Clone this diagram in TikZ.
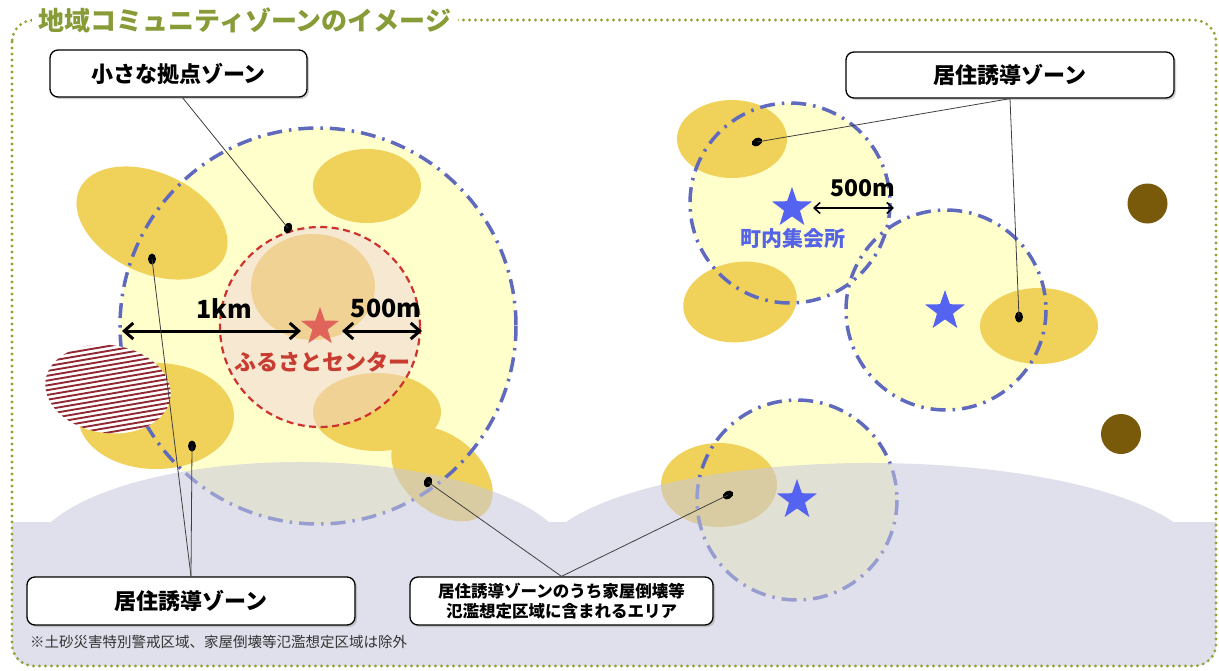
\documentclass[tikz,border=0pt]{standalone}
\usepackage{fontspec}
\newfontfamily\jp{Noto Sans CJK JP}
\usetikzlibrary{shapes.geometric,arrows.meta,shadows}
\definecolor{frameg}{RGB}{145,165,55}
\definecolor{titleg}{RGB}{135,155,55}
\definecolor{lyellow}{RGB}{255,255,204}
\definecolor{gold}{RGB}{240,210,90}
\definecolor{zoneblue}{RGB}{95,105,190}
\definecolor{zonered}{RGB}{205,50,45}
\definecolor{peach}{RGB}{240,210,215}
\definecolor{lav}{RGB}{200,200,222}
\definecolor{starred}{RGB}{225,100,90}
\definecolor{starblue}{RGB}{85,100,240}
\definecolor{dotbrown}{RGB}{120,90,10}
\definecolor{hatchred}{RGB}{145,40,50}
\definecolor{labelred}{RGB}{200,60,50}
\definecolor{labelblue}{RGB}{85,100,230}
\begin{document}
\begin{tikzpicture}[x=1pt,y=-1pt,
  zone/.style={draw=zoneblue, line width=3.5pt, dash pattern=on 15pt off 7pt on 2.5pt off 7pt},
  hub/.style={draw=zonered, line width=2.2pt, dash pattern=on 7pt off 4.5pt},
  callout/.style={draw=black, line width=1.3pt, rounded corners=8pt, fill=white,
    drop shadow={shadow xshift=2pt, shadow yshift=-2pt, opacity=0.35},
    align=center, inner sep=0pt},
  leader/.style={draw=black!75, line width=0.8pt},
  blackdot/.style={ellipse, fill=black, minimum width=8pt, minimum height=11pt, inner sep=0pt},
  meas/.style={line width=3pt, {Straight Barb[length=9pt,width=16pt]}-{Straight Barb[length=9pt,width=16pt]}},
  meassmall/.style={line width=1.6pt, {Straight Barb[length=6pt,width=11pt]}-{Straight Barb[length=6pt,width=11pt]}},
  starnode/.style={star, star points=5, star point ratio=2.5, minimum size=42pt, inner sep=0pt},
  bigtxt/.style={font=\jp\bfseries\fontsize{25}{29}\selectfont},
]
\useasboundingbox (0,0) rectangle (1219,670);
\fill[white] (0,0) rectangle (1219,670);

% zone fills
\fill[lyellow] (318,326) circle[radius=198];
\fill[lyellow] (790,203) circle[radius=100];
\fill[lyellow] (946,310) circle[radius=100];
\fill[lyellow] (797,500) circle[radius=100];

% residential (gold) areas
\fill[gold, rotate around={-25:(152,223)}] (152,223) ellipse[x radius=80, y radius=50];
\fill[gold] (367,186) ellipse[x radius=54, y radius=37];
\fill[gold] (313,287) ellipse[x radius=62, y radius=53];
\fill[gold] (156,416) ellipse[x radius=78, y radius=53];
\fill[gold] (377,412) ellipse[x radius=64, y radius=39];
\fill[gold, rotate around={-40:(442,474)}] (442,474) ellipse[x radius=58, y radius=38];
\fill[gold] (732,139) ellipse[x radius=55, y radius=39];
\fill[gold, rotate around={8:(740,302)}] (740,302) ellipse[x radius=57, y radius=40];
\fill[gold] (1039,326) ellipse[x radius=59, y radius=38];
\fill[gold] (719,485) ellipse[x radius=58, y radius=42];

% small hub zone (translucent)
\fill[peach, fill opacity=0.48] (320,327) circle[radius=100];

% zone outlines
\draw[zone] (318,326) circle[radius=198];
\draw[zone] (790,203) circle[radius=100];
\draw[zone] (946,310) circle[radius=100];
\draw[zone] (797,500) circle[radius=100];
\draw[hub] (320,327) circle[radius=100];

% hatched excluded area
\begin{scope}
  \clip[rotate around={-8:(108,389)}] (108,389) ellipse[x radius=63, y radius=44];
  \fill[white] (40,330) rectangle (180,450);
  \foreach \i in {-18,...,18}
    \draw[hatchred, line width=1.9pt] (40,{389+\i*4.8+12}) -- (180,{389+\i*4.8-12});
\end{scope}

% flood-assumed area overlay
\begin{scope}
  \clip[rounded corners=20pt] (12,20) rectangle (1216,666);
  \fill[lav, fill opacity=0.55] (0,522) -- (51,522)
    arc[start angle=202.8, end angle=337.2, x radius=270, y radius=98]
    -- (566,522)
    arc[start angle=203.06, end angle=336.94, x radius=330, y radius=97]
    -- (1230,522) -- (1230,680) -- (0,680) -- cycle;
\end{scope}

% stars and labels
\node[starnode, fill=starred, minimum size=40pt] (sred) at (320,327) {};
\node[starnode, fill=starblue] (sb1) at (792,208) {};
\node[starnode, fill=starblue] (sb2) at (945,311) {};
\node[starnode, fill=starblue] (sb3) at (797,500) {};
\node[font=\jp\bfseries\fontsize{22}{26}\selectfont, text=labelred] (furusato) at (322,362) {ふるさとセンター};
\node[font=\jp\bfseries\fontsize{21}{25}\selectfont, text=labelblue] (chonai) at (793,239) {町内集会所};

% measures
\coordinate (m1a) at (122,331);
\coordinate (m1b) at (301,331);
\coordinate (m2a) at (342,331);
\coordinate (m2b) at (422,331);
\coordinate (m3a) at (813,208);
\coordinate (m3b) at (894,208);
\draw[meas] (m1a) -- (m1b);
\draw[meas] (m2a) -- (m2b);
\draw[meassmall] (m3a) -- (m3b);
\node[bigtxt] (km1) at (224,309) {1km};
\node[bigtxt] (m500a) at (386,308) {500m};
\node[font=\jp\bfseries\fontsize{23}{27}\selectfont] (m500b) at (863,188) {500m};

% brown dots
\fill[dotbrown] (1147.5,203.5) circle[radius=20];
\fill[dotbrown] (1121,434) circle[radius=20];

% callout boxes
\node[callout, minimum width=257pt, minimum height=47pt, font=\jp\bfseries\fontsize{22}{26}\selectfont] (box1) at (178.5,73.5) {小さな拠点ゾーン};
\node[callout, minimum width=328pt, minimum height=46pt, font=\jp\bfseries\fontsize{22}{26}\selectfont] (box2) at (1010,75) {居住誘導ゾーン};
\node[callout, minimum width=328pt, minimum height=48pt, font=\jp\bfseries\fontsize{22}{26}\selectfont] (box3) at (191,601) {居住誘導ゾーン};
\node[callout, minimum width=303pt, minimum height=48pt, font=\jp\bfseries\fontsize{16.5}{20}\selectfont] (box4) at (561.5,601) {居住誘導ゾーンのうち家屋倒壊等\\氾濫想定区域に含まれるエリア};

% dots and leaders
\node[blackdot, rotate=-20] (d1) at (288,228) {};
\node[blackdot] (d2) at (152,259) {};
\node[blackdot] (d3) at (192,446) {};
\node[blackdot, rotate=-20] (d4) at (428,482) {};
\node[blackdot, rotate=-60] (d5) at (757,142) {};
\node[blackdot] (d6) at (1019,317) {};
\node[blackdot, rotate=-60] (d7) at (728,495) {};
\draw[leader] ([xshift=4pt]box1.south) -- (d1.center);
\draw[leader] (box3.north) -- (d2.center);
\draw[leader] (box3.north) -- (d3.center);
\draw[leader] (box4.north) -- (d4.center);
\draw[leader] (box4.north) -- (d7.center);
\draw[leader] (box2.south) -- (d5.center);
\draw[leader] (box2.south) -- (d6.center);

% footnote
\node[anchor=west, inner sep=0pt, text=black!80, font=\jp\fontsize{14.5}{17}\selectfont] (note) at (30,642) {※土砂災害特別警戒区域、家屋倒壊等氾濫想定区域は除外};

% frame and title
\draw[frameg, line width=3.2pt, line cap=round, dash pattern=on 0pt off 6pt, rounded corners=22pt] (12,20) rectangle (1216,666);
\node[fill=white, text=titleg, inner xsep=7pt, inner ysep=2pt, font=\jp\bfseries\fontsize{26}{30}\selectfont] (title) at (245,20) {地域コミュニティゾーンのイメージ};
\end{tikzpicture}
\end{document}
